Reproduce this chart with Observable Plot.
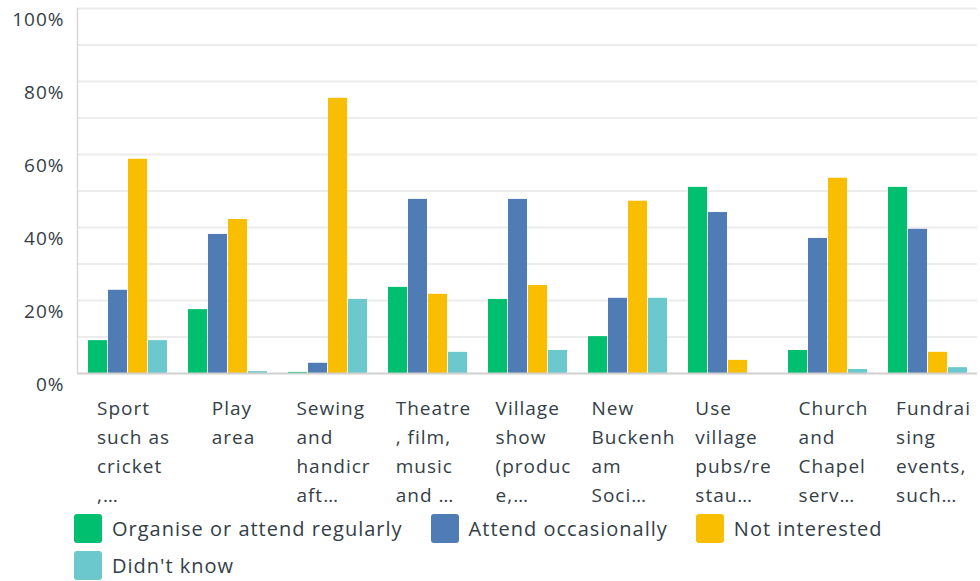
<!DOCTYPE html>
<html>
<head>
<meta charset="utf-8">
<script src="https://cdn.jsdelivr.net/npm/d3@7"></script>
<script src="https://cdn.jsdelivr.net/npm/@observablehq/plot@0.6"></script>
<style>
  html, body { margin: 0; padding: 0; background: #fff; }
  body { font-family: "Open Sans", sans-serif; color: #333e48; width: 980px; height: 581px; overflow: hidden; }
  #legend { display: flex; flex-wrap: wrap; padding-left: 74px; width: 906px; margin-top: 2px; }
  .item { display: flex; align-items: center; height: 29px; margin: 0 28px 8px 0; font-size: 20px; letter-spacing: 1px; }
  .sw { width: 28px; height: 29px; border-radius: 3px; margin-right: 10px; }
</style>
</head>
<body>
<div id="chart"></div>
<div id="legend"></div>
<script>
const categories = [
  "Sport such as cricket", "Play area", "Sewing and handicraft", "Theatre, film, music and",
  "Village show (produce", "New Buckenham Society", "Use village pubs/restaurants",
  "Church and Chapel services", "Fundraising events, such"
];
const tickLabels = [
  "Sport\nsuch as\ncricket\n,…", "Play\narea", "Sewing\nand\nhandicr\naft…", "Theatre\n, film,\nmusic\nand …",
  "Village\nshow\n(produc\ne,…", "New\nBuckenh\nam\nSoci…", "Use\nvillage\npubs/re\nstau…",
  "Church\nand\nChapel\nserv…", "Fundrai\nsing\nevents,\nsuch…"
];
const series = ["Organise or attend regularly", "Attend occasionally", "Not interested", "Didn't know"];
const colors = ["#00bf6f", "#507cb6", "#f9be00", "#6bc8cd"];
const organise      = [9.0, 17.5, 0.3, 23.6, 20.3, 10.1, 51.0, 6.3, 51.0];
const occasionally  = [22.8, 38.1, 2.8, 47.7, 47.7, 20.6, 44.1, 37.0, 39.5];
const notInterested = [58.7, 42.2, 75.4, 21.7, 24.1, 47.2, 3.6, 53.5, 5.8];
const didntKnow     = [9.0, 0.5, 20.3, 5.8, 6.3, 20.6, 0.0, 1.1, 1.6];
const yTicks = [0, 20, 40, 60, 80, 100];
const yGrid = [10, 20, 30, 40, 50, 60, 70, 80, 90, 100];

const valuesBySeries = [organise, occasionally, notInterested, didntKnow];
const data = [];
categories.forEach((c, i) => {
  series.forEach((s, j) => data.push({category: c, series: s, value: valuesBySeries[j][i]}));
});

const textColor = "#333e48";
const chart = Plot.plot({
  width: 980,
  height: 512,
  marginLeft: 77,
  marginRight: 3,
  marginTop: 8,
  marginBottom: 139,
  style: {fontFamily: "'Open Sans', sans-serif", color: textColor, background: "#fff", letterSpacing: "1px"},
  fx: {domain: categories, padding: 0, label: null},
  x: {domain: series, paddingInner: 0.05, paddingOuter: 0.5, axis: null},
  y: {domain: [0, 100], axis: null},
  color: {domain: series, range: colors},
  marks: [
    Plot.gridY(yGrid, {stroke: "#ececec", strokeWidth: 2, strokeOpacity: 1}),
    Plot.barY(data, {fx: "category", x: "series", y: "value", fill: "series"}),
    Plot.ruleY([0], {stroke: "#d0d0d0", strokeWidth: 2}),
    Plot.frame({anchor: "left", facet: "super", stroke: "#d6d6d6", strokeWidth: 1.5}),
    Plot.axisY(yTicks, {tickSize: 0, tickPadding: 13, dy: 11, fontSize: 19, fill: textColor, tickFormat: d => d + "%", label: null}),
    Plot.axisFx({
      anchor: "bottom",
      tickSize: 0, tickPadding: 21, textAnchor: "start", fontSize: 19, lineHeight: 1.53,
      fill: textColor, label: null,
      tickFormat: d => tickLabels[categories.indexOf(d)]
    })
  ]
});
document.getElementById("chart").appendChild(chart);

// centre each wrapped label block on its group (lines stay left-aligned)
chart.querySelectorAll('g[aria-label="fx-axis tick label"] text').forEach(t => {
  const w = t.getBBox().width;
  t.setAttribute("transform", `translate(${-w / 2 + 6},0) ` + (t.getAttribute("transform") || ""));
});

const legend = document.getElementById("legend");
series.forEach((s, j) => {
  const item = document.createElement("div");
  item.className = "item";
  const sw = document.createElement("div");
  sw.className = "sw";
  sw.style.background = colors[j];
  const label = document.createElement("span");
  label.textContent = s;
  item.appendChild(sw);
  item.appendChild(label);
  legend.appendChild(item);
});
</script>
</body>
</html>
